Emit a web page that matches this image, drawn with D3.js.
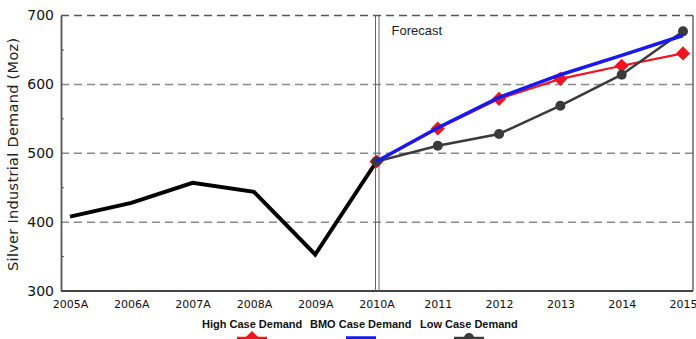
<!DOCTYPE html>
<html>
<head>
<meta charset="utf-8">
<script src="https://cdn.jsdelivr.net/npm/d3@7"></script>
<style>
  html, body { margin: 0; padding: 0; background: #fff; }
  svg { display: block; }
</style>
</head>
<body>
<svg id="chart" width="696" height="339"></svg>
<script>
// Categories along the x axis
const years = ["2005A", "2006A", "2007A", "2008A", "2009A", "2010A", "2011", "2012", "2013", "2014", "2015"];
// Actual demand 2005–2010
const historyYears = ["2005A", "2006A", "2007A", "2008A", "2009A", "2010A"];
const historyValues = [408, 428, 457, 444, 353, 488];
// Forecast scenarios 2010A–2015
const forecastYears = ["2010A", "2011", "2012", "2013", "2014", "2015"];
const highCase = [488, 536, 579, 608, 627, 645];
const bmoCase = [488, 537, 581, 614, 642, 671];
const lowCase = [488, 511, 528, 569, 614, 677];
const yTicks = [300, 400, 500, 600, 700];
const yMinor = [350, 450, 550, 650];

const svg = d3.select("#chart");
const plot = { left: 61, right: 693, top: 15.5, bottom: 291 };

const x = d3.scalePoint().domain(years).range([70, 683]);
const y = d3.scaleLinear().domain([300, 700]).range([plot.bottom, plot.top]);

// Dashed horizontal gridlines
svg.append("g").selectAll("line")
  .data([400, 500, 600])
  .join("line")
  .attr("x1", plot.left).attr("x2", plot.right)
  .attr("y1", d => y(d)).attr("y2", d => y(d))
  .attr("stroke", "#8a8a8a").attr("stroke-width", 1.5)
  .attr("stroke-dasharray", "8,5");

// Top border (dashed)
svg.append("line")
  .attr("x1", plot.left).attr("x2", plot.right)
  .attr("y1", y(700)).attr("y2", y(700))
  .attr("stroke", "#555").attr("stroke-width", 1.5)
  .attr("stroke-dasharray", "8,5");

// Right border
svg.append("line")
  .attr("x1", plot.right).attr("x2", plot.right)
  .attr("y1", y(700)).attr("y2", y(300))
  .attr("stroke", "#444").attr("stroke-width", 1.2);

// Bottom axis line
svg.append("line")
  .attr("x1", plot.left).attr("x2", plot.right)
  .attr("y1", y(300)).attr("y2", y(300))
  .attr("stroke", "#444").attr("stroke-width", 1.8);

// Left axis with labels
const yAxis = d3.axisLeft(y).tickValues(yTicks).tickSize(0).tickPadding(7);
const gy = svg.append("g").attr("transform", `translate(${plot.left},0)`).call(yAxis);
gy.select(".domain").attr("stroke", "#555").attr("stroke-width", 1.8);
gy.selectAll("text")
  .attr("font-family", "DejaVu Sans").attr("font-size", 14).attr("fill", "#111");

// Minor ticks inside the left axis
svg.append("g").selectAll("line")
  .data(yMinor)
  .join("line")
  .attr("x1", plot.left).attr("x2", plot.left + 3)
  .attr("y1", d => y(d)).attr("y2", d => y(d))
  .attr("stroke", "#555").attr("stroke-width", 1);

// X axis labels
const xAxis = d3.axisBottom(x).tickSize(0).tickPadding(9);
const gx = svg.append("g").attr("transform", `translate(0,${plot.bottom})`).call(xAxis);
gx.select(".domain").remove();
gx.selectAll("text")
  .attr("font-family", "DejaVu Sans").attr("font-size", 11).attr("fill", "#111");

// Y axis title
svg.append("text")
  .attr("transform", `translate(18,${(plot.top + plot.bottom) / 2 + 1}) rotate(-90)`)
  .attr("text-anchor", "middle")
  .attr("font-family", "DejaVu Sans").attr("font-size", 14.5)
  .attr("letter-spacing", 0.3).attr("fill", "#222")
  .text("Silver Industrial Demand (Moz)");

// Forecast divider (double line)
const xf = x("2010A");
[xf - 1, xf + 2.5].forEach(px => {
  svg.append("line")
    .attr("x1", px).attr("x2", px)
    .attr("y1", y(700)).attr("y2", y(300))
    .attr("stroke", "#666").attr("stroke-width", 1);
});
svg.append("text")
  .attr("x", xf + 15).attr("y", 35)
  .attr("font-family", "Liberation Sans").attr("font-size", 13).attr("fill", "#222")
  .text("Forecast");

const line = d3.line().x(d => x(d.k)).y(d => y(d.v));
const pair = (ks, vs) => ks.map((k, i) => ({ k, v: vs[i] }));

// Historical demand
svg.append("path")
  .datum(pair(historyYears, historyValues))
  .attr("d", line).attr("fill", "none")
  .attr("stroke", "#000").attr("stroke-width", 4).attr("stroke-linejoin", "miter");

// Square symbol turned 45° for the diamond markers
const diamond = d3.symbol().type(d3.symbolSquare).size(100);

// High case (red, diamonds)
const highData = pair(forecastYears, highCase);
svg.append("path").datum(highData).attr("d", line)
  .attr("fill", "none").attr("stroke", "#f0141e").attr("stroke-width", 2.2);
svg.append("g").selectAll("path")
  .data(highData).join("path")
  .attr("transform", d => `translate(${x(d.k)},${y(d.v)}) rotate(45)`)
  .attr("d", diamond).attr("fill", "#f0141e");

// Low case (dark gray, circles)
const lowData = pair(forecastYears, lowCase);
svg.append("path").datum(lowData).attr("d", line)
  .attr("fill", "none").attr("stroke", "#3a3a3a").attr("stroke-width", 2.5);
svg.append("g").selectAll("circle")
  .data(lowData).join("circle")
  .attr("cx", d => x(d.k)).attr("cy", d => y(d.v)).attr("r", 5)
  .attr("fill", "#3a3a3a");

// BMO case (blue, no markers)
svg.append("path").datum(pair(forecastYears, bmoCase)).attr("d", line)
  .attr("fill", "none").attr("stroke", "#1818f0").attr("stroke-width", 3.5);

// Legend
const legend = [
  { name: "High Case Demand", cx: 252, color: "#f0141e", marker: "diamond", tx: 202 },
  { name: "BMO Case Demand", cx: 361, color: "#1818f0", marker: "none", tx: 310 },
  { name: "Low Case Demand", cx: 469, color: "#3a3a3a", marker: "circle", tx: 420 }
];
const lg = svg.append("g");
legend.forEach(it => {
  lg.append("text").attr("x", it.tx).attr("y", 328)
    .attr("font-family", "Liberation Sans").attr("font-weight", "bold")
    .attr("font-size", 11).attr("fill", "#111").text(it.name);
  lg.append("line")
    .attr("x1", it.cx - 15).attr("x2", it.cx + 15)
    .attr("y1", 338).attr("y2", 338)
    .attr("stroke", it.color).attr("stroke-width", it.marker === "none" ? 3.5 : 2.5);
  if (it.marker === "diamond") {
    lg.append("path").attr("transform", `translate(${it.cx},338) rotate(45)`)
      .attr("d", diamond).attr("fill", it.color);
  } else if (it.marker === "circle") {
    lg.append("circle").attr("cx", it.cx).attr("cy", 338).attr("r", 5).attr("fill", it.color);
  }
});
</script>
</body>
</html>
